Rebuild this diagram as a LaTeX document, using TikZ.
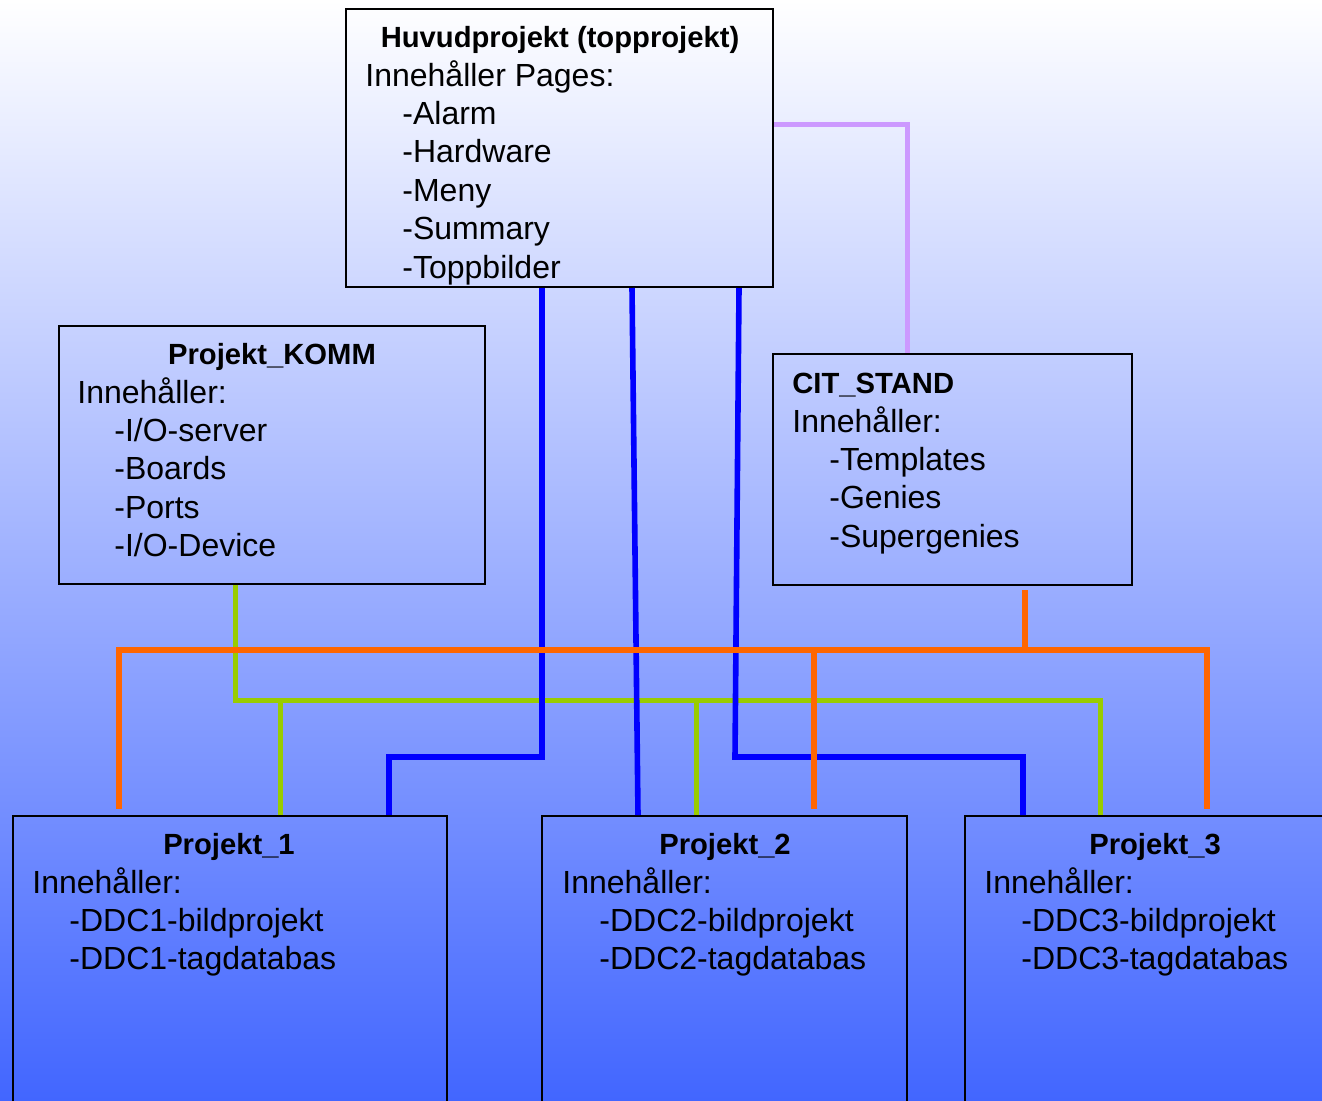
\documentclass[tikz,border=0pt]{standalone}
\usepackage{fontspec}
\setmainfont{Liberation Sans}
\usetikzlibrary{fit,calc}
\definecolor{bgbottom}{RGB}{66,102,255}
\definecolor{linkorange}{RGB}{255,102,0}
\definecolor{linkgreen}{RGB}{153,204,0}
\definecolor{linkblue}{RGB}{0,0,255}
\definecolor{linkpurple}{RGB}{204,153,255}
\begin{document}
\begin{tikzpicture}[x=0.5pt,y=-0.5pt,
  box/.style={draw=black, line width=1pt, inner sep=0pt, rectangle},
  boxtitle/.style={font=\fontsize{14.6}{17}\selectfont\bfseries, inner sep=0pt, anchor=base},
  boxtitleleft/.style={boxtitle, anchor=base west},
  txt/.style={font=\fontsize{16}{19}\selectfont, inner sep=0pt, anchor=base west},
  orangelink/.style={draw=linkorange, line width=3pt, line join=miter},
  greenlink/.style={draw=linkgreen, line width=2.5pt, line join=miter},
  bluelink/.style={draw=linkblue, line width=2.8pt, line join=miter},
  purplelink/.style={draw=linkpurple, line width=2.5pt, line join=miter}]
\clip (0,0) rectangle (1322,1100);
\shade[top color=white, bottom color=bgbottom] (0,0) rectangle (1322,1100);

% boxes
\node[box, fit={(346,9) (773,287)}] (huvud) {};
\node[box, fit={(59,326) (485,584)}] (komm) {};
\node[box, fit={(773,354) (1132,585)}] (cit) {};
\node[box, fit={(13,816) (447,1130)}] (p1) {};
\node[box, fit={(542,816) (907,1130)}] (p2) {};
\node[box, fit={(965,816) (1340,1130)}] (p3) {};

% routing levels and columns
\coordinate (ypur) at (0,124);
\coordinate (yor) at (0,650);
\coordinate (ygr) at (0,700);
\coordinate (ybl) at (0,757);
\coordinate (xpur) at (907,0);
\coordinate (xb1) at (542,0);
\coordinate (xb1d) at (389,0);
\coordinate (xb2) at (632,0);
\coordinate (xb2d) at (638,0);
\coordinate (xb3) at (739,0);
\coordinate (xb3m) at (735,0);
\coordinate (xb3d) at (1023,0);
\coordinate (xg0) at (235,0);
\coordinate (xg1) at (280,0);
\coordinate (xg2) at (696,0);
\coordinate (xg3) at (1100,0);
\coordinate (xo0) at (1025,0);
\coordinate (xo1) at (119,0);
\coordinate (xo2) at (814,0);
\coordinate (xo3) at (1207,0);

% topprojekt -> CIT_STAND
\draw[purplelink] (huvud.east |- ypur) -- (xpur |- ypur) -- (cit.north -| xpur);

% Projekt_KOMM -> projects
\draw[greenlink] (komm.south -| xg0) -- (xg0 |- ygr) -- (xg3 |- ygr) -- (p3.north -| xg3);
\draw[greenlink] (xg1 |- ygr) -- (p1.north -| xg1);
\draw[greenlink] (xg2 |- ygr) -- (p2.north -| xg2);

% topprojekt -> projects
\draw[bluelink] (huvud.south -| xb1) -- (xb1 |- ybl) -- (xb1d |- ybl) -- (p1.north -| xb1d);
\draw[bluelink] (huvud.south -| xb2) -- (p2.north -| xb2d);
\draw[bluelink] (huvud.south -| xb3) -- (xb3m |- ybl) -- (xb3d |- ybl) -- (p3.north -| xb3d);

% CIT_STAND -> projects
\draw[orangelink] ($(cit.south -| xo0)+(0,4)$) -- (xo0 |- yor);
\draw[orangelink] ($(p1.north -| xo1)+(0,-6)$) -- (xo1 |- yor) -- (xo3 |- yor) -- ($(p3.north -| xo3)+(0,-6)$);
\draw[orangelink] (xo2 |- yor) -- ($(p2.north -| xo2)+(0,-6)$);

% topprojekt text
\node[boxtitle] (huvud-t) at (560,47) {Huvudprojekt (topprojekt)};
\node[txt] (huvud-l0) at (365,86) {Innehåller Pages:};
\node[txt] (huvud-l1) at (402,124.4) {-Alarm};
\node[txt] (huvud-l2) at (402,162.8) {-Hardware};
\node[txt] (huvud-l3) at (402,201.2) {-Meny};
\node[txt] (huvud-l4) at (402,239.6) {-Summary};
\node[txt] (huvud-l5) at (402,278) {-Toppbilder};

% Projekt_KOMM text
\node[boxtitle] (komm-t) at (272,364) {Projekt\_KOMM};
\node[txt] (komm-l0) at (77,403) {Innehåller:};
\node[txt] (komm-l1) at (114,441.4) {-I/O-server};
\node[txt] (komm-l2) at (114,479.8) {-Boards};
\node[txt] (komm-l3) at (114,518.2) {-Ports};
\node[txt] (komm-l4) at (114,556.6) {-I/O-Device};

% CIT_STAND text
\node[boxtitleleft] (cit-t) at (792,393) {CIT\_STAND};
\node[txt] (cit-l0) at (792,432) {Innehåller:};
\node[txt] (cit-l1) at (829,470.4) {-Templates};
\node[txt] (cit-l2) at (829,508.8) {-Genies};
\node[txt] (cit-l3) at (829,547.2) {-Supergenies};

% Projekt_1 text
\node[boxtitle] (p1-t) at (229,854) {Projekt\_1};
\node[txt] (p1-l0) at (32,893) {Innehåller:};
\node[txt] (p1-l1) at (69,931.4) {-DDC1-bildprojekt};
\node[txt] (p1-l2) at (69,969.8) {-DDC1-tagdatabas};

% Projekt_2 text
\node[boxtitle] (p2-t) at (725,854) {Projekt\_2};
\node[txt] (p2-l0) at (562,893) {Innehåller:};
\node[txt] (p2-l1) at (599,931.4) {-DDC2-bildprojekt};
\node[txt] (p2-l2) at (599,969.8) {-DDC2-tagdatabas};

% Projekt_3 text
\node[boxtitle] (p3-t) at (1155,854) {Projekt\_3};
\node[txt] (p3-l0) at (984,893) {Innehåller:};
\node[txt] (p3-l1) at (1021,931.4) {-DDC3-bildprojekt};
\node[txt] (p3-l2) at (1021,969.8) {-DDC3-tagdatabas};
\end{tikzpicture}
\end{document}
